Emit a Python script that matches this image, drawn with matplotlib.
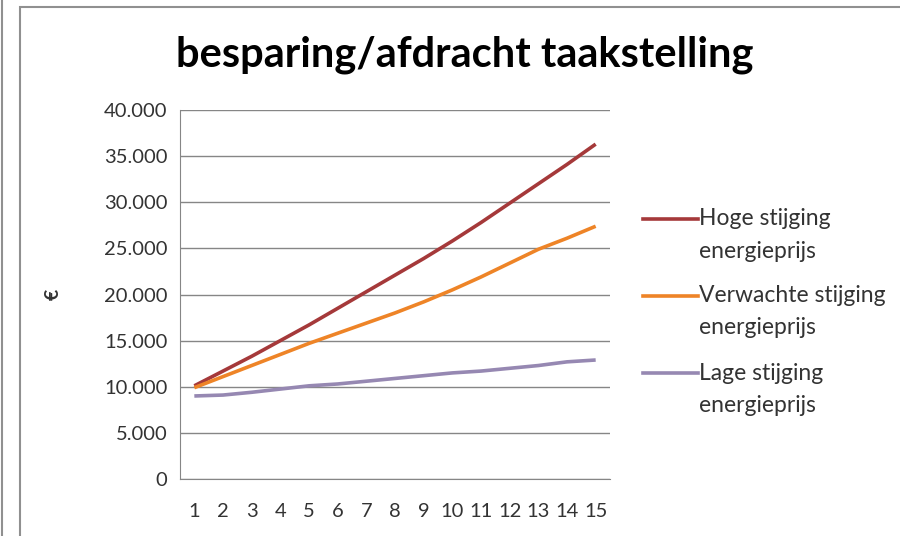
import matplotlib
matplotlib.use("Agg")
import matplotlib.pyplot as plt
from matplotlib.patches import Rectangle
from matplotlib.lines import Line2D
from matplotlib.ticker import FuncFormatter

# data
jaren = list(range(1, 16))
hoog = [10.1, 11.7, 13.3, 15.0, 16.7, 18.5, 20.3, 22.1, 23.9, 25.8, 27.8, 29.9, 32.0, 34.1, 36.3]
verwacht = [9.9, 11.1, 12.3, 13.5, 14.7, 15.8, 16.9, 18.0, 19.2, 20.5, 21.9, 23.4, 24.9, 26.1, 27.4]
laag = [9.0, 9.1, 9.4, 9.75, 10.1, 10.3, 10.6, 10.9, 11.2, 11.5, 11.7, 12.0, 12.3, 12.7, 12.9]
hoog = [v * 1000 for v in hoog]
verwacht = [v * 1000 for v in verwacht]
laag = [v * 1000 for v in laag]

namen = ["Hoge stijging\nenergieprijs",
         "Verwachte stijging\nenergieprijs",
         "Lage stijging\nenergieprijs"]
kleuren = ["#a5393a", "#ee8427", "#9688b2"]
yticks = list(range(0, 40001, 5000))

plt.rcParams['font.family'] = ['Lato', 'DejaVu Sans']
txt = "#333333"

fig = plt.figure(figsize=(9, 5.36), dpi=100)

# outer frame lines
fig.add_artist(Line2D([0.002, 0.002], [0, 1], color="#909090", lw=1.5))
fig.add_artist(Rectangle((20 / 900, -0.05), 1.0, 1 - 7 / 536 + 0.05, fill=False,
                         edgecolor="#909090", lw=1.5, transform=fig.transFigure))

ax = fig.add_axes([180 / 900, 57 / 536, 430 / 900, 369 / 536])
for serie, naam, kleur in zip([hoog, verwacht, laag], namen, kleuren):
    ax.plot(jaren, serie, color=kleur, lw=2.6, solid_capstyle="butt")

ax.set_xlim(0.5, 15.5)
ax.set_ylim(0, 40000)
ax.set_yticks(yticks)
ax.yaxis.set_major_formatter(FuncFormatter(lambda v, p: "0" if v == 0 else f"{int(v):,}".replace(",", ".")))
ax.set_xticks(jaren)
ax.grid(axis="y", color="#868686", lw=1)
ax.set_axisbelow(True)
for s in ["top", "right"]:
    ax.spines[s].set_visible(False)
for s in ["left", "bottom"]:
    ax.spines[s].set_color("#868686")
ax.tick_params(length=0, labelsize=14.5, colors=txt)
ax.tick_params(axis="y", pad=9)
ax.tick_params(axis="x", pad=17)
ax.set_ylabel("€", fontsize=14, fontweight="bold", color=txt)
ax.yaxis.set_label_coords((62 - 180) / 430, 0.5)

fig.text(465 / 900, 1 - 55 / 536, "besparing/afdracht taakstelling", ha="center", va="center",
         fontsize=30, fontweight="bold", color="black")

# legend, drawn by hand so the key line sits at the first text line
leg_y = [219, 296, 373]
for naam, kleur, yy in zip(namen, kleuren, leg_y):
    y = 1 - yy / 536
    fig.add_artist(Line2D([643 / 900, 698 / 900], [y, y], color=kleur, lw=2.6))
    for k, regel in enumerate(naam.split("\n")):
        fig.text(699 / 900, 1 - (yy + 32 * k) / 536, regel, ha="left", va="center",
                 fontsize=16.5, color=txt)

fig.savefig("out.png", dpi=100)
